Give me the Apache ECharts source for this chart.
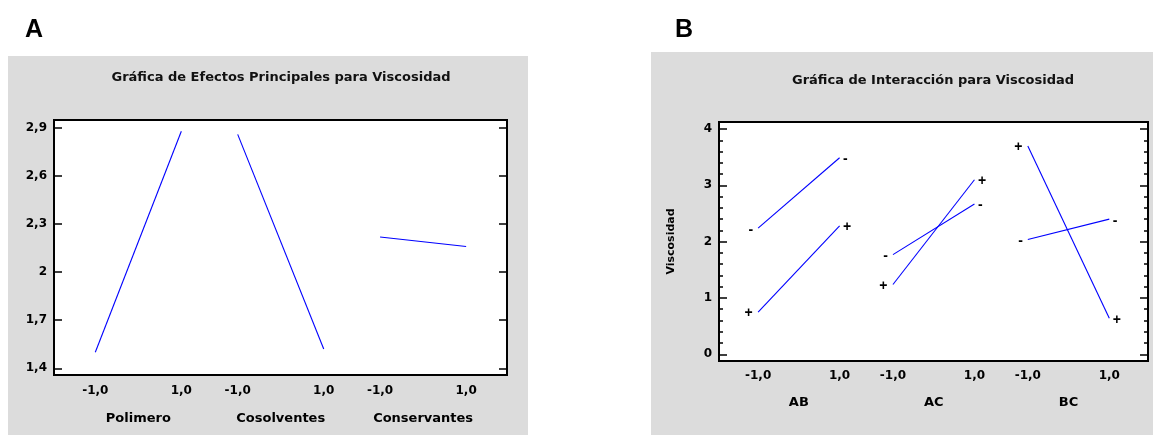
<!DOCTYPE html>
<html>
<head>
<meta charset="utf-8">
<script src="https://cdn.jsdelivr.net/npm/echarts@6/dist/echarts.min.js"></script>
<style>
html,body{margin:0;padding:0;background:#fff;}
#c{width:1153px;height:435px;}
</style>
</head>
<body>
<div id="c"></div>
<script>
// ---------- data ----------
const FACTORS = ['Polimero', 'Cosolventes', 'Conservantes'];
const MAIN_AT_LOW = [1.50, 2.86, 2.22];   // mean viscosity at level -1
const MAIN_AT_HIGH = [2.88, 1.52, 2.16];  // mean viscosity at level +1

const INTERACTIONS = ['AB', 'AC', 'BC'];
const MINUS_AT_LOW = [2.24, 1.77, 2.04];  // second factor at "-" level
const MINUS_AT_HIGH = [3.49, 2.67, 2.40];
const PLUS_AT_LOW = [0.75, 1.24, 3.70];   // second factor at "+" level
const PLUS_AT_HIGH = [2.28, 3.10, 0.64];

const LEVELS = [-1, 1];
const Y_TICKS_A = [1.4, 1.7, 2.0, 2.3, 2.6, 2.9];
const Y_TICKS_B = [0, 1, 2, 3, 4];
const Y_MINOR_B = [0.2,0.4,0.6,0.8,1.2,1.4,1.6,1.8,2.2,2.4,2.6,2.8,3.2,3.4,3.6,3.8];

const TITLE_A = 'Gráfica de Efectos Principales para Viscosidad';
const TITLE_B = 'Gráfica de Interacción para Viscosidad';
const Y_NAME_B = 'Viscosidad';

// ---------- layout ----------
const FONT = 'DejaVu Sans';
const INK = '#000';
const BLUE = '#0000ff';
const X_SPAN = 10.53, GROUP_STEP = 3.31, FIRST_OFFSET = 0.96;

const chart = echarts.init(document.getElementById('c'));

const fmtX = v => (v < 0 ? '-' : '') + Math.abs(v).toFixed(1).replace('.', ',');
const fmtY = v => String(+v.toFixed(2)).replace('.', ',');

function groupRange(g) {
  const min = -1 - (FIRST_OFFSET + g * GROUP_STEP);
  return { min, max: min + X_SPAN };
}

const xAxis = [];
const series = [];
function addXAxes(gridIndex, names, labelMargin, nameMargin) {
  const base = xAxis.length;
  names.forEach((n, g) => {
    const r = groupRange(g);
    xAxis.push({
      type: 'value', gridIndex, position: 'bottom', min: r.min, max: r.max,
      axisLine: { show: false, onZero: false }, axisTick: { show: false }, splitLine: { show: false },
      axisLabel: { customValues: LEVELS, formatter: fmtX, margin: labelMargin,
        fontFamily: FONT, fontWeight: 'bold', fontSize: 12, color: INK }
    });
  });
  names.forEach((n, g) => {
    const r = groupRange(g);
    xAxis.push({
      type: 'value', gridIndex, position: 'bottom', min: r.min, max: r.max,
      axisLine: { show: false, onZero: false }, axisTick: { show: false }, splitLine: { show: false },
      axisLabel: { customValues: [0], formatter: () => n, margin: nameMargin,
        fontFamily: FONT, fontWeight: 'bold', fontSize: 13, color: INK }
    });
  });
  return base;
}

const xA = addXAxes(0, FACTORS, 10, 37);
const xB = addXAxes(1, INTERACTIONS, 9, 35);

const A_MIN = 1.358, A_MAX = 2.95;
const B_MIN = -0.119, B_MAX = 4.125;

function yAx(gridIndex, position, min, max, ticks, len, labels, extra) {
  return Object.assign({
    type: 'value', gridIndex, position, min, max,
    axisLine: { show: false, onZero: false }, splitLine: { show: false },
    axisTick: { show: true, inside: true, length: len, customValues: ticks,
      lineStyle: { color: INK, width: 1.5 } },
    axisLabel: labels ? { show: true, customValues: ticks, formatter: fmtY, margin: 7,
      fontFamily: FONT, fontWeight: 'bold', fontSize: 12, color: INK } : { show: false }
  }, extra || {});
}

const yAxis = [
  yAx(0, 'left', A_MIN, A_MAX, Y_TICKS_A, 8, true),
  yAx(0, 'right', A_MIN, A_MAX, Y_TICKS_A, 8, false),
  yAx(1, 'left', B_MIN, B_MAX, Y_TICKS_B, 8, true, {
    name: Y_NAME_B, nameLocation: 'middle', nameGap: 42, nameRotate: 90,
    nameTextStyle: { fontFamily: FONT, fontWeight: 'bold', fontSize: 11, color: INK }
  }),
  yAx(1, 'left', B_MIN, B_MAX, Y_MINOR_B, 4, false),
  yAx(1, 'right', B_MIN, B_MAX, Y_TICKS_B, 8, false),
  yAx(1, 'right', B_MIN, B_MAX, Y_MINOR_B, 4, false)
];

// main effects
FACTORS.forEach((f, g) => {
  series.push({
    type: 'line', name: f, xAxisIndex: xA + g, yAxisIndex: 0,
    symbol: 'none', silent: true,
    lineStyle: { color: BLUE, width: 1.1 },
    data: [[LEVELS[0], MAIN_AT_LOW[g]], [LEVELS[1], MAIN_AT_HIGH[g]]]
  });
});

// interactions
function interSeries(g, sign, low, high) {
  const lab = (pos, dist) => ({ show: true, position: pos, distance: dist, offset: [0, 1.5],
    formatter: sign, fontFamily: 'Liberation Sans', fontWeight: 'bold', fontSize: 14, color: INK });
  return {
    type: 'line', name: INTERACTIONS[g] + sign, xAxisIndex: xB + g, yAxisIndex: 2,
    symbol: 'circle', symbolSize: 1, showSymbol: true, silent: true,
    itemStyle: { color: 'rgba(0,0,0,0)' },
    lineStyle: { color: BLUE, width: 1.1 },
    data: [
      { value: [LEVELS[0], low], label: lab('left', sign === '+' ? 5 : 4.5) },
      { value: [LEVELS[1], high], label: lab('right', 3) }
    ]
  };
}
INTERACTIONS.forEach((n, g) => {
  series.push(interSeries(g, '-', MINUS_AT_LOW[g], MINUS_AT_HIGH[g]));
  series.push(interSeries(g, '+', PLUS_AT_LOW[g], PLUS_AT_HIGH[g]));
});

const option = {
  animation: false,
  backgroundColor: '#fff',
  graphic: [
    { type: 'rect', z: -100, shape: { x: 8, y: 56, width: 520, height: 379 }, style: { fill: '#dcdcdc' } },
    { type: 'rect', z: -100, shape: { x: 651, y: 52, width: 502, height: 383 }, style: { fill: '#dcdcdc' } },
    { type: 'text', x: 25, y: 30, style: { text: 'A', font: 'bold 25px "Liberation Sans"', fill: '#000', textVerticalAlign: 'middle' } },
    { type: 'text', x: 675, y: 30, style: { text: 'B', font: 'bold 25px "Liberation Sans"', fill: '#000', textVerticalAlign: 'middle' } },
    { type: 'text', x: 281, y: 78, style: { text: TITLE_A, font: 'bold 13px "DejaVu Sans"', fill: '#111', textAlign: 'center', textVerticalAlign: 'middle' } },
    { type: 'text', x: 933, y: 81, style: { text: TITLE_B, font: 'bold 13px "DejaVu Sans"', fill: '#111', textAlign: 'center', textVerticalAlign: 'middle' } }
  ],
  grid: [
    { left: 54, right: 1153 - 507, top: 120, bottom: 435 - 375, show: true,
      backgroundColor: '#fff', borderColor: '#000', borderWidth: 2, containLabel: false },
    { left: 719, right: 1153 - 1148, top: 122, bottom: 435 - 361, show: true,
      backgroundColor: '#fff', borderColor: '#000', borderWidth: 2, containLabel: false }
  ],
  xAxis, yAxis, series
};
chart.setOption(option);
</script>
</body>
</html>
